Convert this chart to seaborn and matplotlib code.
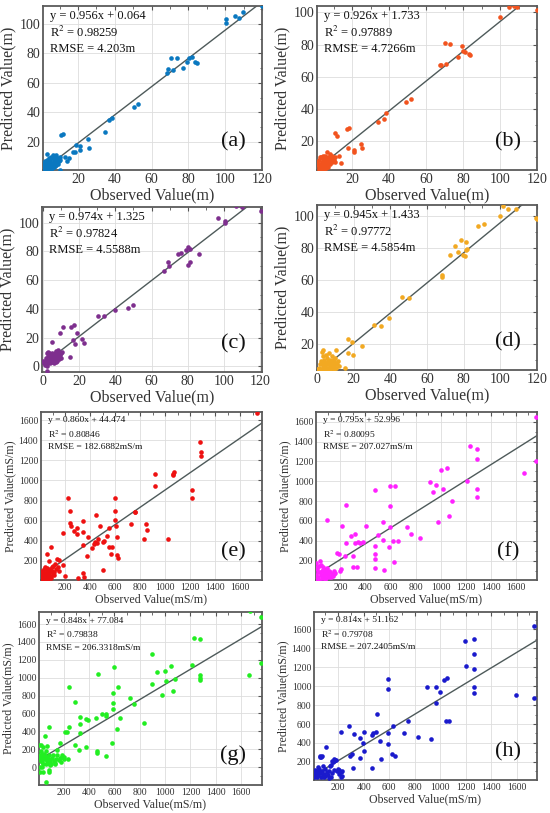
import numpy as np
import matplotlib
matplotlib.use("Agg")
import matplotlib.pyplot as plt
from matplotlib.ticker import AutoMinorLocator
import seaborn as sns

# --- panel data (observed, predicted) ---
A_POINTS = [(100.3, 103.2), (100.6, 100.5), (105.2, 105), (107.5, 103.6), (109.5, 108), (120, 112),
            (68.6, 66.4), (69, 69.4), (70.6, 76.6), (73.9, 76.6), (71.5, 68.7), (77.3, 69.8),
            (79.3, 74.4), (80.6, 76.6), (81.8, 77.3), (83.8, 74.1), (84.7, 73.7), (50.5, 43.5),
            (52.5, 45.5), (34.5, 26.5), (37, 35), (38.5, 36.5), (11, 24.5), (12, 25.5),
            (17.5, 13.5), (18.5, 13), (19, 18), (21, 14.5), (21, 17), (25.5, 22), (26, 16),
            (13, 10), (14, 7), (15, 9),
            (1, 3), (1.5, 5), (2, 2), (2, 4), (2.5, 6), (3, 3), (3, 12), (3.5, 5), (4, 2), (4, 4),
            (4, 7), (4.5, 3), (5, 5), (5, 8), (5.5, 2), (5.5, 10), (6, 4), (6, 6), (6.5, 3),
            (6.5, 11), (7, 5), (7, 7), (7.5, 9), (7.5, 4), (8, 6), (8, 11), (8.5, 8), (9, 5),
            (9, 9), (9.5, 7), (10, 8), (10.5, 10), (10, 1), (1.5, 1.5), (2.5, 2.5), (3.5, 1.5),
            (5, 3.5), (6, 2.5), (7, 3), (8, 4.5), (2, 7), (4, 9), (3, 8), (6, 9), (1, 6)]

B_POINTS = [(120, 101.5), (100, 97), (105, 103.5), (107.5, 104), (109, 103.5), (70.4, 81),
            (73, 80.6), (79.5, 79.4), (80, 76), (81.2, 75.6), (77, 72.3), (83, 74), (84, 73.4),
            (67.5, 67.5), (68, 67), (70.8, 68), (49.4, 44.3), (52.1, 45.9), (34, 32), (37, 33.5),
            (38.5, 37.5), (17, 27.5), (18.5, 28), (11, 25), (12, 23), (18, 15.5), (21, 13),
            (21, 14.5), (25, 18), (25.5, 15.5), (13, 11), (14, 6.5),
            (1, 7), (1.5, 5), (2, 3), (2, 8), (2.5, 6), (3, 4), (3, 10), (3.5, 7), (4, 3), (4, 5),
            (4, 9), (4.5, 6), (5, 4), (5, 8), (5.5, 7), (5.5, 11), (6, 5), (6, 9), (6.5, 6),
            (6.5, 13), (7, 7), (7, 10), (7.5, 8), (8, 6), (8, 9), (8.5, 10), (9, 7), (9, 11),
            (9.5, 9), (10, 8), (10.5, 10), (3, 2.5), (2, 2), (5, 2.5), (7, 4), (8, 12),
            (2.5, 10), (4, 11), (6, 3), (11, 7)]

C_POINTS = [(106.8, 111.6), (110, 111), (120.6, 108), (96.7, 103), (100.4, 101), (100.8, 100),
            (80, 83), (81, 81.4), (79, 80.7), (76.4, 79), (74.6, 78), (86, 78), (81.4, 73),
            (80, 70.5), (69, 73), (69.7, 70.2), (67, 66.7), (47, 40.7), (50, 43), (40, 39.5),
            (30.6, 34.8), (33.5, 34.7), (11, 27.4), (15.3, 27.4), (17, 29), (9.2, 23), (18.8, 23),
            (16.6, 18.6), (17.7, 15.8), (21.7, 19), (22.5, 16.3), (14.7, 6.5), (5, 17),
            (0, 3.5), (0.5, 2), (1, 4), (1, 1), (1.5, 6), (2, 0), (2, -3.5), (2, 9), (2.5, 4),
            (3, 3), (3, 7), (3.5, 9), (4, 2), (4, 5), (4.5, 8), (5, 3), (5, 6), (5, 9.5),
            (5.5, 4), (6, 7), (6, 2), (6.5, 5), (7, 3), (7, 8), (7.5, 6), (8, 4), (8, 9),
            (8.5, 7), (9, 5), (9, 10), (9.5, 8), (10, 9), (10, 6), (10.5, 10), (3, 10),
            (4.5, 6.5), (6.5, 9.5), (7.5, 10.5), (8.5, 11), (2.5, 1.5)]

D_POINTS = [(99.8, 100.4), (101.3, 106.3), (104.4, 104.6), (108.6, 104.6), (119.6, 99), (120, 98),
            (88, 93.7), (91.2, 95.2), (78.4, 85.3), (75, 81), (81, 83.6), (76.7, 77.3),
            (72.3, 75.6), (79.8, 75.6), (80.6, 74.7), (82, 79.2), (81, 78.5), (68, 63),
            (68.3, 62), (46.3, 49.5), (50, 48.4), (39, 36.2), (35, 31.4), (31.3, 32),
            (16.7, 23.2), (19.2, 20.8), (24.4, 18.3), (19.9, 13), (16.9, 14), (10.6, 16),
            (3.3, 16), (15, 5),
            (0.5, 4), (1, 5), (1.5, 7), (2, 4), (2, 9), (2.5, 15), (3, 6), (3, 12), (3.5, 8),
            (4, 4), (4, 10), (4.5, 6), (5, 8), (5, 13), (5.5, 5), (5.5, 11), (6, 7), (6, 9),
            (6.5, 4), (6.5, 14), (7, 6), (7, 10), (7.5, 8), (8, 5), (8, 12), (8.5, 7), (9, 9),
            (9, 4), (9.5, 6), (10, 8), (10, 11), (10.5, 5), (11, 7), (11.5, 9), (12, 6),
            (3, 3.5), (5, 3.5), (7, 3.5), (8.5, 10), (4.5, 8)]

E_POINTS = [(1733, 1673), (1280, 1378), (1285, 1285), (1285, 1245), (1219, 903), (1219, 827),
            (1067, 1063), (1072, 1079), (1061, 1053), (920, 1059), (920, 943), (1021, 422),
            (832, 422), (845, 568), (859, 505), (760, 684), (762, 690), (728, 568), (597, 830),
            (600, 698), (600, 611), (608, 545), (613, 438), (619, 263), (627, 230), (552, 522),
            (533, 449), (555, 339), (573, 339), (565, 273), (480, 545), (467, 422), (459, 379),
            (440, 389), (432, 366), (507, 389), (515, 399), (501, 107), (445, 661), (387, 438),
            (413, 332), (379, 250), (344, 598), (347, 489), (347, 359), (341, 80), (293, 522),
            (293, 472), (227, 830), (240, 698), (240, 578), (245, 545), (272, 498), (181, 478),
            (75, 197), (85, 339), (53, 266), (139, 223), (149, 213), (187, 156), (200, 51),
            (300, 30), (350, 40),
            (5, 20), (10, 60), (12, 15), (18, 35), (20, 90), (25, 10), (28, 50), (30, 120),
            (35, 25), (40, 70), (42, 140), (45, 15), (50, 40), (55, 100), (58, 130), (60, 20),
            (65, 60), (70, 80), (72, 35), (80, 120), (85, 95), (90, 50), (95, 100), (100, 70),
            (105, 150), (110, 90), (120, 170), (130, 120), (140, 140), (150, 100), (15, 100),
            (30, 80), (48, 65), (62, 45), (75, 110), (88, 25), (95, 140), (115, 60)]

F_POINTS = [(1766, 1650), (1766, 1204), (1670, 1080), (1234, 1358), (1287, 1325), (1287, 1224),
            (1287, 919), (1287, 838), (1213, 1006), (1089, 805), (1068, 650), (1050, 1137),
            (1003, 1113), (1016, 919), (937, 895), (963, 962), (916, 996), (982, 593), (837, 426),
            (766, 466), (732, 536), (639, 952), (597, 952), (597, 751), (597, 536), (621, 402),
            (660, 399), (589, 342), (537, 409), (537, 593), (503, 459), (476, 352), (476, 912),
            (476, 265), (476, 214), (476, 130), (550, 107), (629, 191), (403, 550), (384, 385),
            (358, 382), (337, 392), (318, 466), (318, 375), (332, 134), (287, 449), (297, 140),
            (300, 251), (247, 761), (247, 382), (240, 251), (213, 550), (208, 117), (200, 97),
            (174, 282), (187, 268), (95, 610),
            (5, 60), (8, 180), (10, 20), (15, 120), (20, 40), (25, 150), (30, 10), (35, 90),
            (40, 200), (45, 60), (50, 100), (55, 30), (60, 140), (65, 80), (70, 50), (75, 110),
            (80, 70), (85, 30), (90, 90), (95, 130), (100, 60), (110, 40), (120, 90), (130, 70),
            (140, 50), (150, 100), (155, 80), (20, 85), (48, 160), (62, 110), (78, 20),
            (105, 100), (125, 40), (145, 70), (12, 140)]

G_POINTS = [(1672, 1750), (1759, 1682), (1759, 1166), (1661, 1028), (1225, 1439), (1278, 1432),
            (1212, 1140), (1275, 1028), (1275, 998), (1275, 972), (1045, 1129), (998, 1073),
            (934, 1066), (900, 1270), (1006, 965), (1080, 990), (1059, 852), (974, 804),
            (900, 935), (834, 493), (755, 703), (723, 778), (630, 897), (644, 550), (623, 430),
            (596, 1121), (591, 830), (591, 718), (591, 654), (578, 273), (535, 598), (530, 568),
            (499, 598), (451, 550), (535, 123), (459, 176), (459, 161), (469, 1036), (377, 542),
            (393, 531), (332, 486), (327, 561), (327, 381), (372, 224), (287, 729), (292, 243),
            (319, 194), (240, 897), (240, 449), (226, 393), (213, 393), (187, 138), (200, 112),
            (232, 86), (174, 269), (150, 194), (81, 449), (55, 344), (68, 232), (20, 243),
            (28, 150), (81, -37), (87, -56), (60, -168), (28, 0), (33, -56),
            (5, 100), (8, 250), (10, 0), (12, 130), (15, -50), (20, 180), (25, 60), (30, 110),
            (35, 230), (40, 40), (45, 150), (50, 90), (55, 120), (60, 40), (65, 70), (70, 110),
            (75, 50), (80, 90), (85, 130), (90, 60), (95, 80), (100, 40), (110, 100), (120, 70),
            (130, 50), (140, 90), (150, 130), (160, 80), (170, 100), (180, 60), (190, 110),
            (200, 90), (18, 70), (38, 90), (58, 180), (88, 20), (115, 140), (135, 30)]

H_POINTS = [(1738, 1635), (1738, 872), (1595, 907), (1192, 1474), (1262, 1491), (1262, 1337),
            (1262, 1176), (1262, 994), (1262, 924), (1200, 1215), (1057, 1082), (1029, 1064),
            (971, 987), (894, 987), (997, 942), (966, 826), (1049, 627), (1073, 627), (927, 445),
            (829, 462), (751, 634), (717, 504), (587, 1075), (587, 966), (587, 504), (587, 392),
            (629, 574), (621, 287), (642, 259), (504, 707), (499, 515), (530, 424), (470, 504),
            (465, 487), (465, 137), (538, 231), (400, 511), (392, 399), (400, 312), (374, 452),
            (369, 242), (322, 497), (309, 287), (291, 266), (314, 137), (288, 581), (218, 511),
            (210, 112), (231, 49), (166, 207), (148, 207), (135, 155), (106, 357), (57, 249),
            (68, 249),
            (10, 40), (15, 80), (20, 120), (25, 50), (30, 90), (35, 40), (40, 100), (45, 60),
            (50, 130), (55, 260), (60, 80), (65, 40), (70, 260), (75, 110), (80, 60), (85, 40),
            (90, 70), (95, 130), (100, 50), (110, 90), (120, 60), (130, 110), (140, 40),
            (150, 80), (160, 200), (170, 120), (180, 220), (190, 100), (200, 130), (210, 70),
            (220, 90), (225, 40), (230, 100), (45, 150), (82, 160), (125, 30), (145, 170),
            (165, 230), (175, 220)]

SLOPES = [0.956, 0.926, 0.974, 0.945, 0.860, 0.795, 0.848, 0.814]
INTERCEPTS = [0.064, 1.733, 1.325, 1.433, 44.474, 52.996, 77.084, 51.162]
R2_TEXT = ["0.98259", "0.97889", "0.97824", "0.97772", "0.80846", "0.80095", "0.79838", "0.79708"]
RMSE_TEXT = ["4.203m", "4.7266m", "4.5588m", "4.5854m",
             "182.6882mS/m", "207.027mS/m", "206.3318mS/m", "207.2405mS/m"]
PANEL_TAGS = ["(a)", "(b)", "(c)", "(d)", "(e)", "(f)", "(g)", "(h)"]
COLORS = ["#0A78C0", "#F2531E", "#7E2F8E", "#F2A922", "#EE1111", "#FF22FF", "#22EE22", "#1A1ACC"]

# --- layout / axis settings (pixel boxes: left, right, top, bottom) ---
W, H = 550, 813
BOXES = [(43, 262, 6, 170), (317, 537, 6, 170),
         (42, 262, 207, 372), (317, 537, 205, 370),
         (41, 262, 412, 580), (316, 537, 412, 580),
         (39, 262, 612, 785), (314, 537, 612, 780)]
XLIMS = [(1, 120), (1, 120), (-0.5, 121), (0, 120),
         (8, 1775), (5, 1770), (5, 1765), (10, 1760)]
YLIMS = [(1, 112), (2, 104), (-4, 111), (3.5, 107),
         (10, 1680), (5, 1698), (-200, 1735), (10, 1780)]
XTICKS = [range(20, 121, 20), range(20, 121, 20), range(0, 121, 20), range(0, 121, 20)] + \
         [range(200, 1601, 200)] * 4
YTICKS = [range(20, 101, 20), range(20, 101, 20), range(0, 101, 20), range(20, 101, 20),
          range(200, 1601, 200), range(200, 1601, 200), range(0, 1601, 200), range(200, 1601, 200)]

sns.set_theme(style="whitegrid")
plt.rcParams['font.family'] = ['Liberation Serif', 'DejaVu Serif']
plt.rcParams['mathtext.fontset'] = 'stix'

fig = plt.figure(figsize=(W / 100, H / 100), dpi=100)
fig.patch.set_facecolor('white')

all_points = [A_POINTS, B_POINTS, C_POINTS, D_POINTS, E_POINTS, F_POINTS, G_POINTS, H_POINTS]

for i, pts in enumerate(all_points):
    l, r, t, b = BOXES[i]
    ax = fig.add_axes([l / W, 1 - b / H, (r - l) / W, (b - t) / H])
    pts = np.array(pts, dtype=float)
    small = i >= 4

    # fitted line
    xl = np.array([pts[:, 0].min(), XLIMS[i][1]])
    ax.plot(xl, SLOPES[i] * xl + INTERCEPTS[i], color='#4E5A5A', lw=1.0, zorder=2)
    sns.scatterplot(x=pts[:, 0], y=pts[:, 1], ax=ax, color=COLORS[i], s=11,
                    linewidth=0, zorder=3, legend=False)

    ax.set_xlim(*XLIMS[i])
    ax.set_ylim(*YLIMS[i])
    ax.set_xticks(list(XTICKS[i]))
    ax.set_yticks(list(YTICKS[i]))
    ax.xaxis.set_minor_locator(AutoMinorLocator(2))
    ax.yaxis.set_minor_locator(AutoMinorLocator(2))
    tick_fs = 7 if small else 10
    ax.tick_params(which='both', direction='in', top=True, right=True,
                   colors='#555555', labelcolor='#333333', labelsize=tick_fs, pad=2)
    ax.tick_params(which='major', length=3, width=0.8)
    ax.tick_params(which='minor', length=1.8, width=0.6)
    ax.grid(True, which='major', color='#DDDDDD', lw=0.6)
    ax.set_facecolor('white')
    for sp in ax.spines.values():
        sp.set_color('#5A5A5A')
        sp.set_linewidth(1.3)

    unit = "mS/m" if small else "m"
    lab_fs = 8.6 if small else 11.5
    ax.set_xlabel(f"Observed Value({unit})", fontsize=lab_fs, color='#333333', labelpad=1)
    ax.set_ylabel(f"Predicted Value({unit})", fontsize=lab_fs, color='#333333', labelpad=2)

    txt_fs = 6.8 if small else 9
    ys = [0.95, 0.87, 0.79] if small else [0.94, 0.84, 0.74]
    ax.text(0.03, ys[0], f"y = {SLOPES[i]:.3f}x + {INTERCEPTS[i]:.3f}", transform=ax.transAxes,
            fontsize=txt_fs, va='center', ha='left', color='#111111')
    ax.text(0.03, ys[1], f"R$^2$ = {R2_TEXT[i]}", transform=ax.transAxes,
            fontsize=txt_fs, va='center', ha='left', color='#111111')
    ax.text(0.03, ys[2], f"RMSE = {RMSE_TEXT[i]}", transform=ax.transAxes,
            fontsize=txt_fs, va='center', ha='left', color='#111111')
    ax.text(0.87, 0.17, PANEL_TAGS[i], transform=ax.transAxes, fontsize=16,
            va='center', ha='center', color='#111111')

fig.savefig("out.png", dpi=100, facecolor='white')
